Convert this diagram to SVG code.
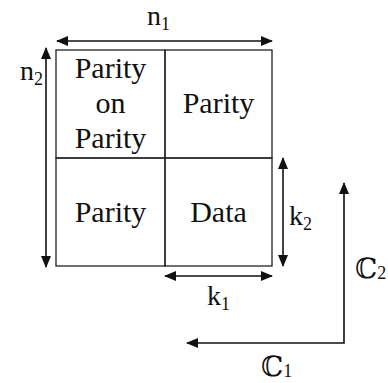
<svg xmlns="http://www.w3.org/2000/svg" width="388" height="383" viewBox="0 0 388 383">
  <style>
    .cell { fill: none; stroke: #222; stroke-width: 1.3; }
    .lbl { font-family: 'Liberation Serif', 'DejaVu Serif', serif; font-size: 30px; fill: #111; text-anchor: middle; }
    .dim { font-family: 'Liberation Serif', 'DejaVu Serif', serif; font-size: 28px; fill: #111; }
    .sub { font-size: 18px; }
    .conn { stroke: #111; stroke-width: 1.6; fill: none; }
  </style>
  <defs>
    <marker id="head" viewBox="0 0 12 10" refX="11" refY="5" markerWidth="12" markerHeight="10" markerUnits="userSpaceOnUse" orient="auto-start-reverse">
      <path d="M0,0 L12,5 L0,10 Z" fill="#111"/>
    </marker>
  </defs>
  <rect width="388" height="383" fill="#fff"/>

  <!-- 2x2 product-code block -->
  <g id="cell-pop">
    <rect class="cell" x="56" y="50" width="109" height="108"/>
    <text class="lbl" x="110.5" y="78">Parity</text>
    <text class="lbl" x="110.5" y="113">on</text>
    <text class="lbl" x="110.5" y="148">Parity</text>
  </g>
  <g id="cell-row-parity">
    <rect class="cell" x="165" y="50" width="107" height="108"/>
    <text class="lbl" x="218.5" y="113">Parity</text>
  </g>
  <g id="cell-col-parity">
    <rect class="cell" x="56" y="158" width="109" height="108"/>
    <text class="lbl" x="110.5" y="222">Parity</text>
  </g>
  <g id="cell-data">
    <rect class="cell" x="165" y="158" width="107" height="108"/>
    <text class="lbl" x="218.5" y="222">Data</text>
  </g>

  <!-- dimension and direction arrows -->
  <g id="connectors">
    <line class="conn" x1="57" y1="41" x2="272" y2="41" marker-start="url(#head)" marker-end="url(#head)"/>
    <line class="conn" x1="46" y1="48" x2="46" y2="267" marker-start="url(#head)" marker-end="url(#head)"/>
    <line class="conn" x1="283" y1="158" x2="283" y2="266" marker-start="url(#head)" marker-end="url(#head)"/>
    <line class="conn" x1="165" y1="276" x2="272" y2="276" marker-start="url(#head)" marker-end="url(#head)"/>
    <polyline class="conn" points="344,183 344,343 187,343" marker-start="url(#head)" marker-end="url(#head)"/>
  </g>

  <g id="labels">
    <text class="dim" x="147" y="25">n<tspan class="sub" dy="5">1</tspan></text>
    <text class="dim" x="20" y="80">n<tspan class="sub" dy="5">2</tspan></text>
    <text class="dim" x="289" y="225">k<tspan class="sub" dy="5">2</tspan></text>
    <text class="dim" x="207" y="305">k<tspan class="sub" dy="5">1</tspan></text>
    <text class="dim" x="261" y="376">ℂ<tspan class="sub" dy="1">1</tspan></text>
    <text class="dim" x="355" y="278">ℂ<tspan class="sub" dy="1">2</tspan></text>
  </g>
</svg>
